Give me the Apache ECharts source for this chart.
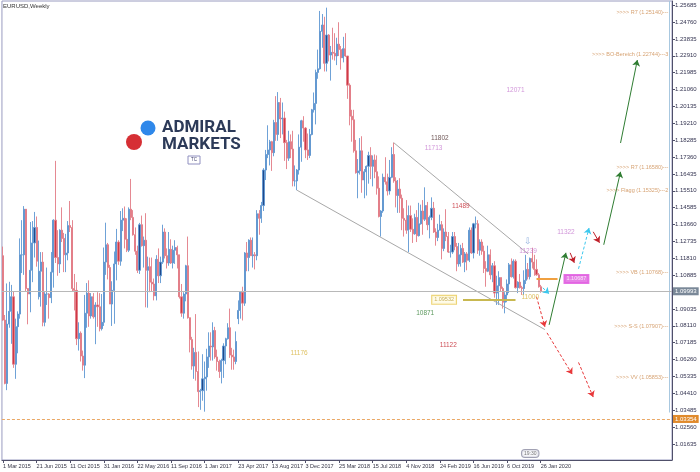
<!DOCTYPE html>
<html><head><meta charset="utf-8">
<script src="https://cdn.jsdelivr.net/npm/echarts@6/dist/echarts.min.js"></script>
<style>html,body{margin:0;padding:0;background:#fff}#c{width:700px;height:472px}</style>
</head><body><div id="c"></div>
<script>
// weekly candles: [open, close, low, high]
const ohlc2015 = [
[1.1195,1.0842,1.0838,1.1245],[1.0842,1.0495,1.0490,1.0870],[1.0495,1.0820,1.0458,1.1043],[1.0820,1.0890,1.0800,1.1052],
[1.0890,1.0970,1.0712,1.1035],[1.0970,1.0600,1.0580,1.1000],[1.0600,1.0806,1.0520,1.0850],[1.0806,1.0875,1.0660,1.0890],
[1.0875,1.1200,1.0850,1.1290],[1.1200,1.1200,1.1100,1.1390],[1.1200,1.1450,1.1090,1.1467],[1.1450,1.1015,1.1000,1.1445],
[1.1015,1.0985,1.0819,1.1005],[1.0985,1.1115,1.0885,1.1380],[1.1115,1.1265,1.1050,1.1385],[1.1265,1.1350,1.1185,1.1435],
[1.1350,1.1165,1.1135,1.1410],[1.0970,1.1110,1.0955,1.1278],[1.1110,1.1160,1.0916,1.1215],[1.1160,1.0830,1.0808,1.1215],
[1.0830,1.0985,1.0808,1.0995],[1.0985,1.0985,1.0925,1.1130],[1.0985,1.0965,1.0850,1.0990],[1.0965,1.1105,1.0935,1.1215],
[1.1105,1.1390,1.1020,1.1395],[1.1390,1.1185,1.1155,1.1715],[1.1185,1.1150,1.1085,1.1335],[1.1150,1.1335,1.1100,1.1340],
[1.1335,1.1290,1.1270,1.1460],[1.1290,1.1200,1.1105,1.1320],[1.1200,1.1210,1.1105,1.1315],[1.1210,1.1360,1.1170,1.1385],
[1.1360,1.1350,1.1325,1.1495],[1.1350,1.1015,1.1000,1.1390],[1.1015,1.1005,1.0895,1.1095],[1.1005,1.0740,1.0705,1.1050],
[1.0740,1.0770,1.0675,1.0830],[1.0770,1.0645,1.0615,1.0780],[1.0645,1.0595,1.0565,1.0675],[1.0595,1.0880,1.0524,1.0980],
[1.0880,1.0990,1.0800,1.1045],[1.0990,1.0865,1.0805,1.1060],[1.0865,1.0970,1.0850,1.0990],[1.0970,1.0860,1.0850,1.0990]
];
const ohlc2016 = [
[1.0860,1.0925,1.0710,1.0940],[1.0925,1.0915,1.0805,1.0995],[1.0915,1.0795,1.0780,1.0990],[1.0795,1.0830,1.0785,1.0985],
[1.0830,1.1160,1.0810,1.1240],[1.1160,1.1255,1.1090,1.1376],[1.1255,1.1130,1.1065,1.1265],[1.1130,1.0930,1.0930,1.1145],
[1.0930,1.1005,1.0810,1.1055],[1.1005,1.1150,1.0822,1.1218],[1.1150,1.1270,1.1060,1.1342],[1.1270,1.1165,1.1145,1.1280],
[1.1165,1.1390,1.1140,1.1440],[1.1390,1.1400,1.1330,1.1455],[1.1400,1.1285,1.1235,1.1465],[1.1285,1.1225,1.1215,1.1400],
[1.1225,1.1450,1.1215,1.1460],[1.1450,1.1405,1.1390,1.1616],[1.1405,1.1310,1.1305,1.1445],[1.1310,1.1220,1.1200,1.1350],
[1.1220,1.1115,1.1100,1.1250],[1.1115,1.1365,1.1095,1.1375],[1.1365,1.1250,1.1245,1.1415],[1.1250,1.1280,1.1130,1.1300],
[1.1280,1.1115,1.0912,1.1428],[1.1115,1.1135,1.0910,1.1190],[1.1135,1.1050,1.0995,1.1185],[1.1050,1.1040,1.1000,1.1185],
[1.1040,1.0975,1.0950,1.1070],[1.0975,1.1175,1.0950,1.1198],[1.1175,1.1085,1.1045,1.1235],[1.1085,1.1160,1.1045,1.1190],
[1.1160,1.1325,1.1150,1.1365],[1.1325,1.1195,1.1180,1.1345],[1.1195,1.1155,1.1125,1.1235],[1.1155,1.1230,1.1140,1.1325],
[1.1230,1.1155,1.1150,1.1285],[1.1155,1.1225,1.1125,1.1250],[1.1225,1.1240,1.1150,1.1280],[1.1240,1.1200,1.1125,1.1250],
[1.1200,1.0970,1.0960,1.1200],[1.0970,1.0880,1.0860,1.1040],[1.0880,1.0985,1.0850,1.0995],[1.0985,1.1140,1.0945,1.1145],
[1.1140,1.0855,1.0850,1.1300],[1.0855,1.0735,1.0665,1.0810],[1.0735,1.0590,1.0570,1.0750],[1.0590,1.0665,1.0520,1.0690],
[1.0665,1.0560,1.0510,1.0875],[1.0560,1.0450,1.0365,1.0670],[1.0450,1.0455,1.0350,1.0465],[1.0455,1.0520,1.0400,1.0655]
];
const ohlc2017 = [
[1.0520,1.0530,1.0340,1.0615],[1.0530,1.0640,1.0455,1.0685],[1.0640,1.0700,1.0580,1.0775],[1.0700,1.0695,1.0620,1.0775],
[1.0695,1.0785,1.0620,1.0830],[1.0785,1.0640,1.0630,1.0805],[1.0640,1.0615,1.0565,1.0680],[1.0615,1.0560,1.0525,1.0625],
[1.0560,1.0620,1.0495,1.0630],[1.0620,1.0700,1.0525,1.0715],[1.0700,1.0740,1.0600,1.0745],[1.0740,1.0800,1.0735,1.0825],
[1.0800,1.0650,1.0635,1.0905],[1.0650,1.0640,1.0570,1.0690],[1.0640,1.0615,1.0570,1.0680],[1.0615,1.0725,1.0600,1.0780],
[1.0850,1.0895,1.0820,1.0950],[1.0895,1.0995,1.0850,1.1000],[1.0995,1.0935,1.0840,1.1025],[1.0935,1.1210,1.0920,1.1215],
[1.1210,1.1185,1.1110,1.1270],[1.1185,1.1280,1.1110,1.1285],[1.1280,1.1195,1.1195,1.1295],[1.1195,1.1200,1.1130,1.1295],
[1.1200,1.1195,1.1120,1.1215],[1.1195,1.1425,1.1170,1.1445],[1.1425,1.1400,1.1310,1.1445],[1.1400,1.1470,1.1375,1.1490],
[1.1470,1.1665,1.1440,1.1675],[1.1665,1.1750,1.1610,1.1775],[1.1750,1.1775,1.1730,1.1910],[1.1775,1.1820,1.1690,1.1830],
[1.1820,1.1760,1.1660,1.1825],[1.1760,1.1925,1.1740,1.1940],[1.1925,1.1860,1.1825,1.2070],[1.1860,1.2035,1.1825,1.2092],
[1.2035,1.1945,1.1840,1.2060],[1.1945,1.1950,1.1860,1.2035],[1.1950,1.1815,1.1715,1.1985],[1.1815,1.1730,1.1670,1.1830],
[1.1730,1.1820,1.1715,1.1880],[1.1820,1.1780,1.1730,1.1860],[1.1780,1.1605,1.1575,1.1880],[1.1605,1.1605,1.1575,1.1690],
[1.1605,1.1665,1.1554,1.1670],[1.1665,1.1790,1.1640,1.1860],[1.1790,1.1935,1.1710,1.1940],[1.1935,1.1895,1.1820,1.1960],
[1.1895,1.1775,1.1730,1.1900],[1.1775,1.1745,1.1720,1.1865],[1.1745,1.1860,1.1730,1.1890],[1.1860,1.1995,1.1855,1.2000],
[1.1995,1.2030,1.1980,1.2090]
];
const ohlc2018 = [
[1.2030,1.2200,1.1915,1.2215],[1.2200,1.2220,1.2165,1.2325],[1.2220,1.2425,1.2215,1.2537],[1.2425,1.2460,1.2335,1.2520],
[1.2460,1.2250,1.2205,1.2505],[1.2250,1.2405,1.2205,1.2555],[1.2405,1.2295,1.2260,1.2410],[1.2295,1.2310,1.2155,1.2345],
[1.2310,1.2305,1.2270,1.2445],[1.2305,1.2290,1.2265,1.2415],[1.2290,1.2355,1.2240,1.2390],[1.2355,1.2325,1.2290,1.2475],
[1.2325,1.2280,1.2215,1.2345],[1.2280,1.2330,1.2255,1.2395],[1.2330,1.2290,1.2285,1.2415],[1.2290,1.2130,1.2055,1.2290],
[1.2130,1.1960,1.1910,1.2140],[1.1960,1.1940,1.1820,1.1995],[1.1940,1.1770,1.1760,1.1995],[1.1770,1.1650,1.1645,1.1830],
[1.1650,1.1660,1.1510,1.1725],[1.1660,1.1770,1.1640,1.1840],[1.1770,1.1610,1.1540,1.1850],[1.1610,1.1655,1.1510,1.1670],
[1.1655,1.1685,1.1525,1.1690],[1.1685,1.1745,1.1590,1.1765],[1.1745,1.1685,1.1615,1.1790],[1.1685,1.1720,1.1575,1.1745],
[1.1720,1.1655,1.1620,1.1750],[1.1655,1.1565,1.1530,1.1745],[1.1565,1.1410,1.1405,1.1630],[1.1410,1.1440,1.1300,1.1445],
[1.1440,1.1625,1.1430,1.1645],[1.1625,1.1600,1.1585,1.1735],[1.1600,1.1550,1.1525,1.1645],[1.1550,1.1625,1.1530,1.1720],
[1.1625,1.1750,1.1620,1.1790],[1.1750,1.1605,1.1595,1.1815],[1.1605,1.1525,1.1460,1.1625],[1.1525,1.1560,1.1430,1.1610],
[1.1560,1.1510,1.1430,1.1620],[1.1510,1.1400,1.1335,1.1530],[1.1400,1.1390,1.1300,1.1455],[1.1390,1.1335,1.1315,1.1500],
[1.1335,1.1415,1.1215,1.1470],[1.1415,1.1340,1.1325,1.1470],[1.1340,1.1315,1.1265,1.1400],[1.1315,1.1405,1.1310,1.1425],
[1.1405,1.1305,1.1270,1.1445],[1.1305,1.1370,1.1300,1.1485],[1.1370,1.1440,1.1365,1.1475],[1.1440,1.1395,1.1310,1.1500]
];
const ohlc2019 = [
[1.1395,1.1470,1.1385,1.1570],[1.1470,1.1365,1.1335,1.1490],[1.1365,1.1405,1.1290,1.1415],[1.1405,1.1455,1.1390,1.1515],
[1.1455,1.1325,1.1320,1.1490],[1.1325,1.1295,1.1250,1.1345],[1.1295,1.1335,1.1275,1.1370],[1.1335,1.1365,1.1335,1.1420],
[1.1365,1.1235,1.1175,1.1385],[1.1235,1.1325,1.1220,1.1345],[1.1325,1.1300,1.1275,1.1450],[1.1300,1.1215,1.1210,1.1325],
[1.1215,1.1215,1.1185,1.1255],[1.1215,1.1300,1.1205,1.1325],[1.1300,1.1245,1.1225,1.1325],[1.1245,1.1150,1.1110,1.1265],
[1.1150,1.1200,1.1135,1.1265],[1.1200,1.1235,1.1135,1.1255],[1.1235,1.1160,1.1155,1.1265],[1.1160,1.1205,1.1105,1.1215],
[1.1205,1.1170,1.1115,1.1215],[1.1170,1.1335,1.1160,1.1350],[1.1335,1.1210,1.1205,1.1350],[1.1210,1.1370,1.1180,1.1375],
[1.1370,1.1370,1.1345,1.1410],[1.1370,1.1225,1.1205,1.1390],[1.1225,1.1270,1.1195,1.1285],[1.1270,1.1220,1.1200,1.1285],
[1.1220,1.1125,1.1100,1.1250],[1.1125,1.1110,1.1025,1.1165],[1.1110,1.1200,1.1105,1.1250],[1.1200,1.1090,1.1065,1.1230],
[1.1090,1.1140,1.1050,1.1155],[1.1140,1.0990,1.0965,1.1165],[1.0990,1.1030,1.0925,1.1085],[1.1030,1.1075,1.0925,1.1110],
[1.1075,1.1015,1.1000,1.1075],[1.1015,1.0940,1.0905,1.1025],[1.0940,1.0980,1.0879,1.0995],[1.0980,1.1040,1.0940,1.1065],
[1.1040,1.1145,1.0990,1.1155],[1.1145,1.1080,1.1075,1.1180],[1.1080,1.1165,1.1070,1.1175],[1.1165,1.1020,1.1015,1.1175],
[1.1020,1.1050,1.0990,1.1055],[1.1050,1.1020,1.1015,1.1095],[1.1020,1.1015,1.0980,1.1030],[1.1015,1.1060,1.0980,1.1115],
[1.1060,1.1120,1.1040,1.1200],[1.1120,1.1080,1.1065,1.1155],[1.1080,1.1180,1.1065,1.1185],[1.1180,1.1160,1.1125,1.1239]
];
const ohlc2020 = [
[1.1160,1.1120,1.1085,1.1200],[1.1120,1.1090,1.1085,1.1175],[1.1090,1.1025,1.1020,1.1100],[1.1025,1.0999,1.0992,1.1035]
];

const yTicks = [1.25685,1.24760,1.23835,1.22910,1.21985,1.21060,1.20135,1.19210,1.18285,1.17360,1.16435,1.15510,1.14585,
  1.13660,1.12735,1.11810,1.10885,1.09035,1.08110,1.07185,1.06260,1.05335,1.04410,1.03485,1.02560,1.01635];
const firstWeek = '2015-03-01';
const totalWeeks = 319;
const labelEvery = 16;
const bidPrice = 1.09993;
const lowMarker = 1.03354;

// channel lines [startIdx, startPrice, endIdx, endPrice]
const channelLines = [[140,1.1554,258.3,1.0790],[186,1.1815,250,1.1205]];
// wave projection arrows [fromIdx, fromPrice, toIdx, toPrice, kind]
const waveArrows = [
  [253.6,1.0970,258.3,1.0805,'red'],
  [257.4,1.1019,260.2,1.0986,'cyan'],
  [260.2,1.0816,267.8,1.1211,'green'],
  [269.7,1.1211,272.1,1.1156,'darkred'],
  [274.0,1.1123,279.2,1.1347,'cyan'],
  [280.6,1.1326,284.4,1.1266,'darkred'],
  [285.8,1.1255,294.4,1.1655,'green'],
  [294.4,1.1813,302.0,1.2268,'green'],
  [259.3,1.0772,270.7,1.0545,'red'],
  [274.0,1.0610,280.5,1.0420,'red']
];
// level segments [fromIdx, toIdx, price, kind]
const levelSegments = [[219,244,1.0953,'olive'],[254,263.5,1.1068,'orange']];
// number notes [idx, price, text, kind]
const waveNotes = [
  [243.6,1.2104,'12071','violet'],[208,1.1841,'11802','dark'],[204.7,1.1786,'11713','violet'],
  [218,1.1468,'11489','darkred'],[250.2,1.1222,'11239','violet'],[268.3,1.1326,'11322','violet'],
  [251.2,1.0970,'11000','gold'],[201.3,1.0882,'10871','green'],[212.3,1.0707,'11122','darkred'],
  [141,1.0663,'11176','gold']
];
// right side level texts [price, text]
const levelTexts = [
  [1.2531,'>>>> R7 (1.25140)---'],[1.2296,'>>>> BO-Bereich (1.22744)---3'],[1.1676,'>>>> R7 (1.16580)---'],
  [1.1550,'>>>> Flagg (1.15325)---2'],[1.1101,'>>>> VB (1.10768)---'],[1.0805,'>>>> S-S (1.07907)---'],
  [1.0526,'>>>> VV (1.05853)---']
];
// price boxes [idx, price, text, kind]
const priceBoxes = [[209.5,1.0953,'1.09532','yellow'],[272.5,1.1068,'1.10687','magenta']];
const separatorIdx = 317.3;

const months = ['Jan','Feb','Mar','Apr','May','Jun','Jul','Aug','Sep','Oct','Nov','Dec'];
const cats = [];
const t0 = Date.parse(firstWeek + 'T00:00:00Z');
for (let i = 0; i < totalWeeks; i++) {
  const d = new Date(t0 + i * 7 * 86400000);
  cats.push(d.getUTCDate() + ' ' + months[d.getUTCMonth()] + ' ' + d.getUTCFullYear());
}
const candles = [].concat(ohlc2015, ohlc2016, ohlc2017, ohlc2018, ohlc2019, ohlc2020);
const lastIdx = candles.length - 1;
const showTick = (i) => i % labelEvery === 0 && i <= lastIdx;

const colorMap = {red:'#e8383a', cyan:'#3cc8ee', green:'#2f7d32', darkred:'#c0202a', violet:'#c67bd0',
  dark:'#4a2a2a', gold:'#d6b23a', olive:'#c8b850', orange:'#f0a040', yellow:'#e8c850', magenta:'#e050e0'};
const FONT = 'Liberation Sans';

const chart = echarts.init(document.getElementById('c'), null, {renderer:'canvas'});
chart.setOption({
  animation: false,
  backgroundColor: '#ffffff',
  grid: {left: 0, right: 28, top: 1, bottom: 12, show: true, borderColor: '#9a9cc0', borderWidth: 1},
  xAxis: {
    type: 'category', data: cats, boundaryGap: true,
    axisLine: {show: true, lineStyle: {color: '#50506a'}},
    axisTick: {show: true, interval: showTick, alignWithLabel: true, length: 3, lineStyle: {color: '#50506a'}},
    axisLabel: {interval: showTick, fontSize: 5.5, color: '#333344', align: 'left', margin: 3, fontFamily: FONT},
    splitLine: {show: false}
  },
  yAxis: {
    type: 'value', position: 'right', min: 1.0075, max: 1.25915, scale: true,
    axisLine: {show: true, lineStyle: {color: '#50506a'}},
    axisTick: {show: true, length: 3, customValues: yTicks, lineStyle: {color: '#50506a'}},
    axisLabel: {customValues: yTicks, fontSize: 6, color: '#333350', margin: 3, fontFamily: FONT,
      formatter: v => v.toFixed(5)},
    splitLine: {show: false}
  },
  series: [
    {
      type: 'candlestick', data: candles, barWidth: 1.6,
      itemStyle: {color: '#22498a', color0: '#cf3a46', borderColor: '#5f97d2', borderColor0: '#e27c86', borderWidth: 0.9},
      markLine: {
        silent: true, symbol: 'none', animation: false,
        data: [
          {yAxis: bidPrice, lineStyle: {color: '#b8b8b8', type: 'solid', width: 1},
           label: {show: true, position: 'end', distance: 1, formatter: bidPrice.toFixed(5), fontSize: 6, color: '#fff',
             backgroundColor: '#7a8898', padding: [1, 2], fontFamily: FONT}},
          {yAxis: lowMarker, lineStyle: {color: '#eaa865', type: [3, 2], width: 1},
           label: {show: true, position: 'end', distance: 1, formatter: lowMarker.toFixed(5), fontSize: 6, color: '#fff',
             backgroundColor: '#e08a2c', padding: [1, 2], fontFamily: FONT}}
        ]
      }
    },
    {
      type: 'lines', coordinateSystem: 'cartesian2d', silent: true, z: 3, symbol: 'none',
      data: channelLines.map(l => ({coords: [[l[0], l[1]], [l[2], l[3]]]})).concat([
        {coords: [[separatorIdx, 1.25915], [separatorIdx, lowMarker]], lineStyle: {color: '#a8c8e0'}}]),
      lineStyle: {color: '#a8a8a8', width: 1, opacity: 1}
    },
    {
      type: 'lines', coordinateSystem: 'cartesian2d', silent: true, z: 4, symbol: 'none',
      data: levelSegments.map(l => ({coords: [[l[0], l[2]], [l[1], l[2]]], lineStyle: {color: colorMap[l[3]], width: 2}})),
      lineStyle: {width: 2, opacity: 1}
    },
    {
      type: 'lines', coordinateSystem: 'cartesian2d', silent: true, z: 5, symbol: ['none', 'arrow'], symbolSize: 6,
      data: waveArrows.map(a => ({coords: [[a[0], a[1]], [a[2], a[3]]],
        lineStyle: {color: colorMap[a[4]], type: (a[4] === 'red' || a[4] === 'cyan') ? [3, 2] : 'solid'}})),
      lineStyle: {width: 1, opacity: 1}
    },
    {
      type: 'scatter', silent: true, z: 6, symbolSize: 1, itemStyle: {color: 'rgba(0,0,0,0)'},
      data: waveNotes.map(n => ({value: [n[0], n[1]],
        label: {show: true, position: 'inside', formatter: n[2], color: colorMap[n[3]], fontSize: 6.5, fontFamily: FONT}}))
    },
    {
      type: 'scatter', silent: true, z: 6, symbolSize: 1, itemStyle: {color: 'rgba(0,0,0,0)'},
      data: levelTexts.map(n => ({value: [316.8, n[0]],
        label: {show: true, position: 'left', distance: 0, formatter: n[1], color: '#cc8a4e', fontSize: 5.5, fontFamily: FONT}}))
    },
    {
      type: 'scatter', silent: true, z: 7, symbolSize: 1, itemStyle: {color: 'rgba(0,0,0,0)'},
      data: priceBoxes.map(b => ({value: [b[0], b[1]],
        label: {show: true, position: 'inside', formatter: b[2], fontSize: 5.5, fontFamily: FONT, padding: [1, 2],
          color: b[3] === 'yellow' ? '#b89a30' : '#ffffff',
          backgroundColor: b[3] === 'yellow' ? '#fffbe6' : '#e060e0',
          borderColor: colorMap[b[3]], borderWidth: 1}}))
    },
    {
      type: 'scatter', silent: true, z: 7, symbolSize: 1, itemStyle: {color: 'rgba(0,0,0,0)'},
      data: [
        {value: [250.2, 1.1271], label: {show: true, position: 'inside', formatter: '⇩', color: '#7aa0d8', fontSize: 9}},
        {value: [251.2, 1.0110], label: {show: true, position: 'inside', formatter: '19:30', color: '#555', fontSize: 5,
          fontFamily: FONT, backgroundColor: '#f4f4f8', borderColor: '#8a8aa0', borderWidth: 1, borderRadius: 3, padding: [1, 2]}}
      ]
    }
  ],
  graphic: [
    {type: 'text', left: 3, top: 3, style: {text: 'EURUSD,Weekly', fontSize: 6, fill: '#333', fontFamily: FONT}},
    {type: 'circle', shape: {cx: 148, cy: 128, r: 7.5}, style: {fill: '#2f88ea'}},
    {type: 'circle', shape: {cx: 134, cy: 142, r: 8}, style: {fill: '#d62f34'}},
    {type: 'text', x: 162, y: 119, style: {text: 'ADMIRAL', font: 'bold 17px Roboto', fill: '#2c3a58'}},
    {type: 'text', x: 162, y: 136, style: {text: 'MARKETS', font: 'bold 17px Roboto', fill: '#2c3a58'}},
    {type: 'rect', shape: {x: 188, y: 156, width: 12, height: 8}, style: {fill: '#fff', stroke: '#9090c0', lineWidth: 1}},
    {type: 'text', x: 191, y: 157.5, style: {text: 'TC', fontSize: 4.5, fill: '#404070', fontFamily: FONT}}
  ]
});
</script>
</body></html>
